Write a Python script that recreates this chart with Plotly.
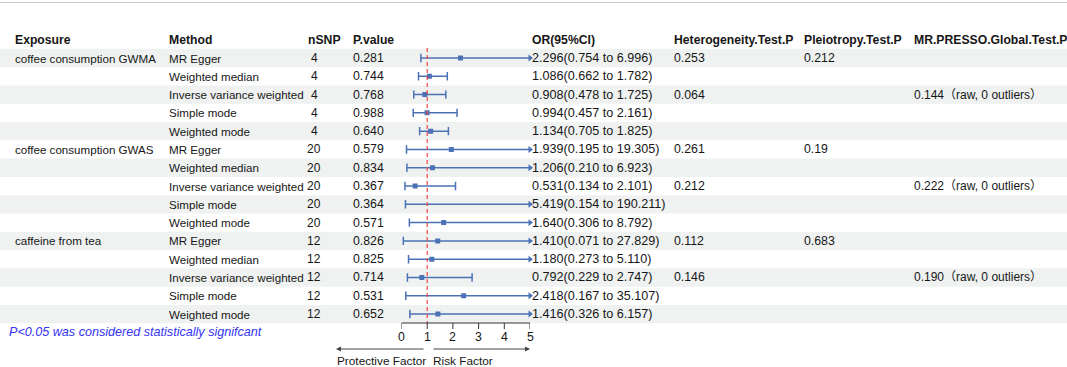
import plotly.graph_objects as go

W, H = 1067, 367

exposure = ["coffee consumption GWMA", "", "", "", "",
            "coffee consumption GWAS", "", "", "", "",
            "caffeine from tea", "", "", "", ""]
methods = ["MR Egger", "Weighted median", "Inverse variance weighted", "Simple mode", "Weighted mode",
           "MR Egger", "Weighted median", "Inverse variance weighted", "Simple mode", "Weighted mode",
           "MR Egger", "Weighted median", "Inverse variance weighted", "Simple mode", "Weighted mode"]
nsnp = ["4", "4", "4", "4", "4", "20", "20", "20", "20", "20", "12", "12", "12", "12", "12"]
pvals = ["0.281", "0.744", "0.768", "0.988", "0.640",
         "0.579", "0.834", "0.367", "0.364", "0.571",
         "0.826", "0.825", "0.714", "0.531", "0.652"]
or_vals = [2.296, 1.086, 0.908, 0.994, 1.134,
           1.939, 1.206, 0.531, 5.419, 1.640,
           1.410, 1.180, 0.792, 2.418, 1.416]
lo_vals = [0.754, 0.662, 0.478, 0.457, 0.705,
           0.195, 0.210, 0.134, 0.154, 0.306,
           0.071, 0.273, 0.229, 0.167, 0.326]
hi_vals = [6.996, 1.782, 1.725, 2.161, 1.825,
           19.305, 6.923, 2.101, 190.211, 8.792,
           27.829, 5.110, 2.747, 35.107, 6.157]
or_text = ["2.296(0.754 to 6.996)", "1.086(0.662 to 1.782)", "0.908(0.478 to 1.725)",
           "0.994(0.457 to 2.161)", "1.134(0.705 to 1.825)",
           "1.939(0.195 to 19.305)", "1.206(0.210 to 6.923)", "0.531(0.134 to 2.101)",
           "5.419(0.154 to 190.211)", "1.640(0.306 to 8.792)",
           "1.410(0.071 to 27.829)", "1.180(0.273 to 5.110)", "0.792(0.229 to 2.747)",
           "2.418(0.167 to 35.107)", "1.416(0.326 to 6.157)"]
het = ["0.253", "", "0.064", "", "", "0.261", "", "0.212", "", "", "0.112", "", "0.146", "", ""]
pleio = ["0.212", "", "", "", "", "0.19", "", "", "", "", "0.683", "", "", "", ""]
presso = ["", "", "0.144（raw, 0 outliers）", "", "", "", "", "0.222（raw, 0 outliers）", "", "",
          "", "", "0.190（raw, 0 outliers）", "", ""]
headers = ["Exposure", "Method", "nSNP", "P.value", "OR(95%CI)",
           "Heterogeneity.Test.P", "Pleiotropy.Test.P", "MR.PRESSO.Global.Test.P"]
xticks = [0, 1, 2, 3, 4, 5]
xmax = 5

# layout geometry (pixels)
row0_px = 58.0
row_h = 18.29
x0_px, x5_px = 401.5, 530.0
n = len(methods)
rows = list(range(1, n + 1))


def ypx_to_row(p):
    return 1 + (p - row0_px) / row_h


FONT = "Liberation Sans, Arial, Noto Sans CJK SC, sans-serif"
TXT = "#161616"
BLUE = "#4a72b5"

fig = go.Figure()

# CI lines (clipped at xmax)
lx, ly = [], []
for r, lo, hi in zip(rows, lo_vals, hi_vals):
    lx += [lo, min(hi, xmax), None]
    ly += [r, r, None]
fig.add_trace(go.Scatter(x=lx, y=ly, mode="lines", line=dict(color=BLUE, width=1.5),
                         hoverinfo="skip", showlegend=False))
# lower caps
fig.add_trace(go.Scatter(x=lo_vals, y=rows, mode="markers",
                         marker=dict(symbol="line-ns", size=6, line=dict(color=BLUE, width=1.5)),
                         hoverinfo="skip", showlegend=False))
# upper caps / arrows
cap_x = [h for h in hi_vals if h <= xmax]
cap_y = [r for r, h in zip(rows, hi_vals) if h <= xmax]
arr_y = [r for r, h in zip(rows, hi_vals) if h > xmax]
fig.add_trace(go.Scatter(x=cap_x, y=cap_y, mode="markers",
                         marker=dict(symbol="line-ns", size=6, line=dict(color=BLUE, width=1.5)),
                         hoverinfo="skip", showlegend=False))
fig.add_trace(go.Scatter(x=[xmax] * len(arr_y), y=arr_y, mode="markers",
                         marker=dict(symbol="triangle-right", size=6, color=BLUE),
                         hoverinfo="skip", showlegend=False, cliponaxis=False))
# point estimates
px_ = [o for o in or_vals if o <= xmax]
py_ = [r for r, o in zip(rows, or_vals) if o <= xmax]
fig.add_trace(go.Scatter(x=px_, y=py_, mode="markers",
                         marker=dict(symbol="square", size=5, color=BLUE),
                         hoverinfo="skip", showlegend=False))

shapes = []
# top border
shapes.append(dict(type="line", xref="paper", yref="paper", x0=0, x1=1, y0=1 - 2.5 / H, y1=1 - 2.5 / H,
                   line=dict(color="#c8c8c8", width=1)))
# row shading
for r in rows:
    if r % 2 == 1:
        shapes.append(dict(type="rect", xref="paper", yref="y", x0=0, x1=1, y0=r - 0.5, y1=r + 0.5,
                           fillcolor="#eff2f1", line=dict(width=0), layer="below"))
# reference line at 1
shapes.append(dict(type="line", xref="x", yref="y", x0=1, x1=1, y0=0.45, y1=ypx_to_row(323),
                   line=dict(color="#f24444", width=1.2, dash="4px,3px")))
# axis line and ticks
ax_row = ypx_to_row(323)
shapes.append(dict(type="line", xref="x", yref="y", x0=xticks[0], x1=xticks[-1], y0=ax_row, y1=ax_row,
                   line=dict(color="#333333", width=1)))
for t in xticks:
    shapes.append(dict(type="line", xref="x", yref="y", x0=t, x1=t, y0=ax_row, y1=ypx_to_row(329),
                       line=dict(color="#333333", width=1)))
fig.update_layout(shapes=shapes)

ann = []


def add_text(xp, r, text, bold=False, anchor="left", color=TXT, italic=False, size=12):
    t = text
    if bold:
        t = "<b>" + t + "</b>"
    if italic:
        t = "<i>" + t + "</i>"
    ann.append(dict(x=xp / W, y=r, xref="paper", yref="y", text=t, showarrow=False,
                    xanchor=anchor, yanchor="middle", font=dict(family=FONT, size=size, color=color)))


hx = [14, 168, 307, 352, 531, 673, 803, 913]
hrow = ypx_to_row(40)
for x, h in zip(hx, headers):
    add_text(x - 1, hrow, h, bold=True, size=12.2)

for i, r in enumerate(rows):
    if exposure[i]:
        add_text(13, r, exposure[i], size=11.6)
    add_text(167, r, methods[i], size=11.6)
    add_text(314, r, nsnp[i], anchor="center")
    add_text(351, r, pvals[i], size=12.3)
    add_text(530, r, or_text[i], size=12.6)
    if het[i]:
        add_text(672, r, het[i], size=12.3)
    if pleio[i]:
        add_text(802, r, pleio[i], size=12.3)
    if presso[i]:
        add_text(912, r, presso[i], size=12)

# tick labels
for t in xticks:
    ann.append(dict(x=t, y=ypx_to_row(337), xref="x", yref="y", text=str(t), showarrow=False,
                    xanchor="center", yanchor="middle", font=dict(family=FONT, size=12.3, color=TXT)))

# footnote
add_text(7, ypx_to_row(332), "P<0.05 was considered statistically signifcant",
         italic=True, color="#3434f2", size=12.6)

# direction arrows
arr_row = ypx_to_row(349)
ann.append(dict(x=336 / W, y=arr_row, xref="paper", yref="y", ax=89, ay=0,
                axref="pixel", ayref="pixel", text="", showarrow=True, arrowhead=2, arrowsize=1,
                arrowwidth=1, arrowcolor="#444444"))
ann.append(dict(x=530 / W, y=arr_row, xref="paper", yref="y", ax=-98, ay=0,
                axref="pixel", ayref="pixel", text="", showarrow=True, arrowhead=2, arrowsize=1,
                arrowwidth=1, arrowcolor="#444444"))
add_text(335, ypx_to_row(361), "Protective Factor", size=11.8)
add_text(431, ypx_to_row(361), "Risk Factor", size=11.8)

fig.update_layout(annotations=ann)

top_row = ypx_to_row(0)
bot_row = ypx_to_row(H)
fig.update_layout(
    width=W, height=H, margin=dict(l=0, r=0, t=0, b=0),
    paper_bgcolor="white", plot_bgcolor="rgba(0,0,0,0)",
    xaxis=dict(domain=[x0_px / W, x5_px / W], range=[0, xmax], visible=False, fixedrange=True),
    yaxis=dict(domain=[0, 1], range=[bot_row, top_row], visible=False, fixedrange=True),
    showlegend=False,
)

fig.write_html("out.html", config={"displayModeBar": False},
               post_script="document.body.style.margin='0';document.body.style.overflow='hidden';")
